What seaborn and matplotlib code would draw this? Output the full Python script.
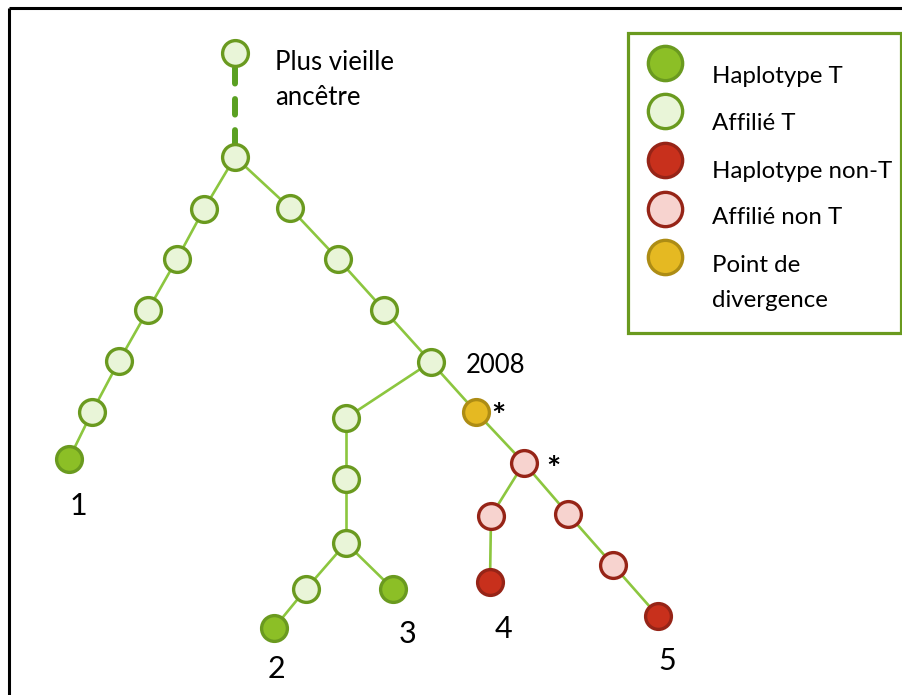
import matplotlib
matplotlib.use("Agg")
import matplotlib.pyplot as plt
from matplotlib.patches import Rectangle
import seaborn as sns
import pandas as pd

sns.set_theme(style="white")
plt.rcParams['font.family'] = ['Lato', 'DejaVu Sans']
plt.rcParams['text.color'] = 'black'

# ---- data ----
node_x = [235, 235, 204, 177, 148, 119, 92, 69, 290, 338, 384, 431, 346, 346, 346, 306, 274, 393,
          476, 524, 491, 490, 568, 613, 658]
node_y = [53, 157, 209, 259, 310, 361, 412, 459, 208, 259, 310, 362, 418, 479, 543, 589, 628, 589,
          412, 463, 516, 582, 514, 565, 616]
node_type = ["affT", "affT", "affT", "affT", "affT", "affT", "affT", "hapT", "affT", "affT", "affT", "affT",
             "affT", "affT", "affT", "affT", "hapT", "hapT",
             "div", "affN", "affN", "hapN", "affN", "affN", "hapN"]
edges = [(1, 2), (2, 3), (3, 4), (4, 5), (5, 6), (6, 7),
         (1, 8), (8, 9), (9, 10), (10, 11),
         (11, 12), (12, 13), (13, 14), (14, 15), (15, 16), (14, 17),
         (11, 18), (18, 19), (19, 20), (20, 21), (19, 22), (22, 23), (23, 24)]
dashed_edge = (0, 1)

types = ["hapT", "affT", "hapN", "affN", "div"]
type_labels = ["Haplotype T", "Affilié T", "Haplotype non-T", "Affilié non T", "Point de\ndivergence"]
fills = {"hapT": "#8cbf26", "affT": "#e9f5d8", "hapN": "#c8301c", "affN": "#f7d3cf", "div": "#e5b922"}
edges_c = {"hapT": "#6a9a1f", "affT": "#6a9a1f", "hapN": "#962417", "affN": "#962417", "div": "#ad8c14"}

leaf_labels = ["1", "2", "3", "4", "5"]
leaf_label_x = [78, 276, 408, 503, 667]
leaf_label_y = [515, 678, 643, 638, 670]

# ---- figure ----
fig = plt.figure(figsize=(9.03, 6.95), dpi=100)
ax = fig.add_axes([0, 0, 1, 1])

# edges
rows = []
for k, (a, b) in enumerate(edges):
    rows.append({"edge": k, "x": node_x[a], "y": node_y[a]})
    rows.append({"edge": k, "x": node_x[b], "y": node_y[b]})
edf = pd.DataFrame(rows)
sns.lineplot(data=edf, x="x", y="y", units="edge", estimator=None, sort=False,
             color="#8cc63f", linewidth=1.9, ax=ax, zorder=1, legend=False)

a, b = dashed_edge
ddf = pd.DataFrame({"x": [node_x[a], node_x[b]], "y": [node_y[a] + 15, node_y[b] - 12]})
ln = sns.lineplot(data=ddf, x="x", y="y", sort=False, estimator=None, color="#5aa021",
                  linewidth=4.3, ax=ax, zorder=1, legend=False)
ln.lines[-1].set_dashes((2.6, 2.6))
ln.lines[-1].set_dash_capstyle("round")

# nodes
ndf = pd.DataFrame({"x": node_x, "y": node_y, "type": node_type})
for t in types:
    sub = ndf[ndf["type"] == t]
    sns.scatterplot(data=sub, x="x", y="y", s=345, color=fills[t], edgecolor=edges_c[t],
                    linewidth=2.4, ax=ax, zorder=3, legend=False)

# frame (top and left visible)
ax.plot([9, 903], [8, 8], color="black", linewidth=2.2, solid_capstyle="butt", zorder=0)
ax.plot([9, 9], [8, 695], color="black", linewidth=2.2, solid_capstyle="butt", zorder=0)

# texts
fs = 18.5
ax.text(275, 70, "Plus vieille", fontsize=fs, va="baseline", ha="left")
ax.text(275, 105, "ancêtre", fontsize=fs, va="baseline", ha="left")
ax.text(466, 373, "2008", fontsize=fs, va="baseline", ha="left")
ax.text(491, 427, "*", fontsize=24, fontweight="bold", va="baseline", ha="left")
ax.text(546, 480, "*", fontsize=24, fontweight="bold", va="baseline", ha="left")
for lab, lx, ly in zip(leaf_labels, leaf_label_x, leaf_label_y):
    ax.text(lx, ly, lab, fontsize=22, va="baseline", ha="center")

# legend box
ax.add_patch(Rectangle((628, 33), 273, 300, fill=False, edgecolor="#6a9a1f", linewidth=2.3, zorder=2))
leg_y = [63, 111, 160, 209, 257]
ldf = pd.DataFrame({"x": [665] * 5, "y": leg_y, "type": types})
for t in types:
    sub = ldf[ldf["type"] == t]
    sns.scatterplot(data=sub, x="x", y="y", s=610, color=fills[t], edgecolor=edges_c[t],
                    linewidth=2.4, ax=ax, zorder=3, legend=False)
leg_text_y = [83, 130, 178, 224, 272, 307]
leg_lines = ["Haplotype T", "Affilié T", "Haplotype non-T", "Affilié non T", "Point de", "divergence"]
for txt, ty in zip(leg_lines, leg_text_y):
    ax.text(712, ty, txt, fontsize=17.3, va="baseline", ha="left")

ax.set_xlim(0, 903)
ax.set_ylim(695, 0)
ax.set_xlabel("")
ax.set_ylabel("")
ax.axis("off")
fig.savefig("out.png", dpi=100)
